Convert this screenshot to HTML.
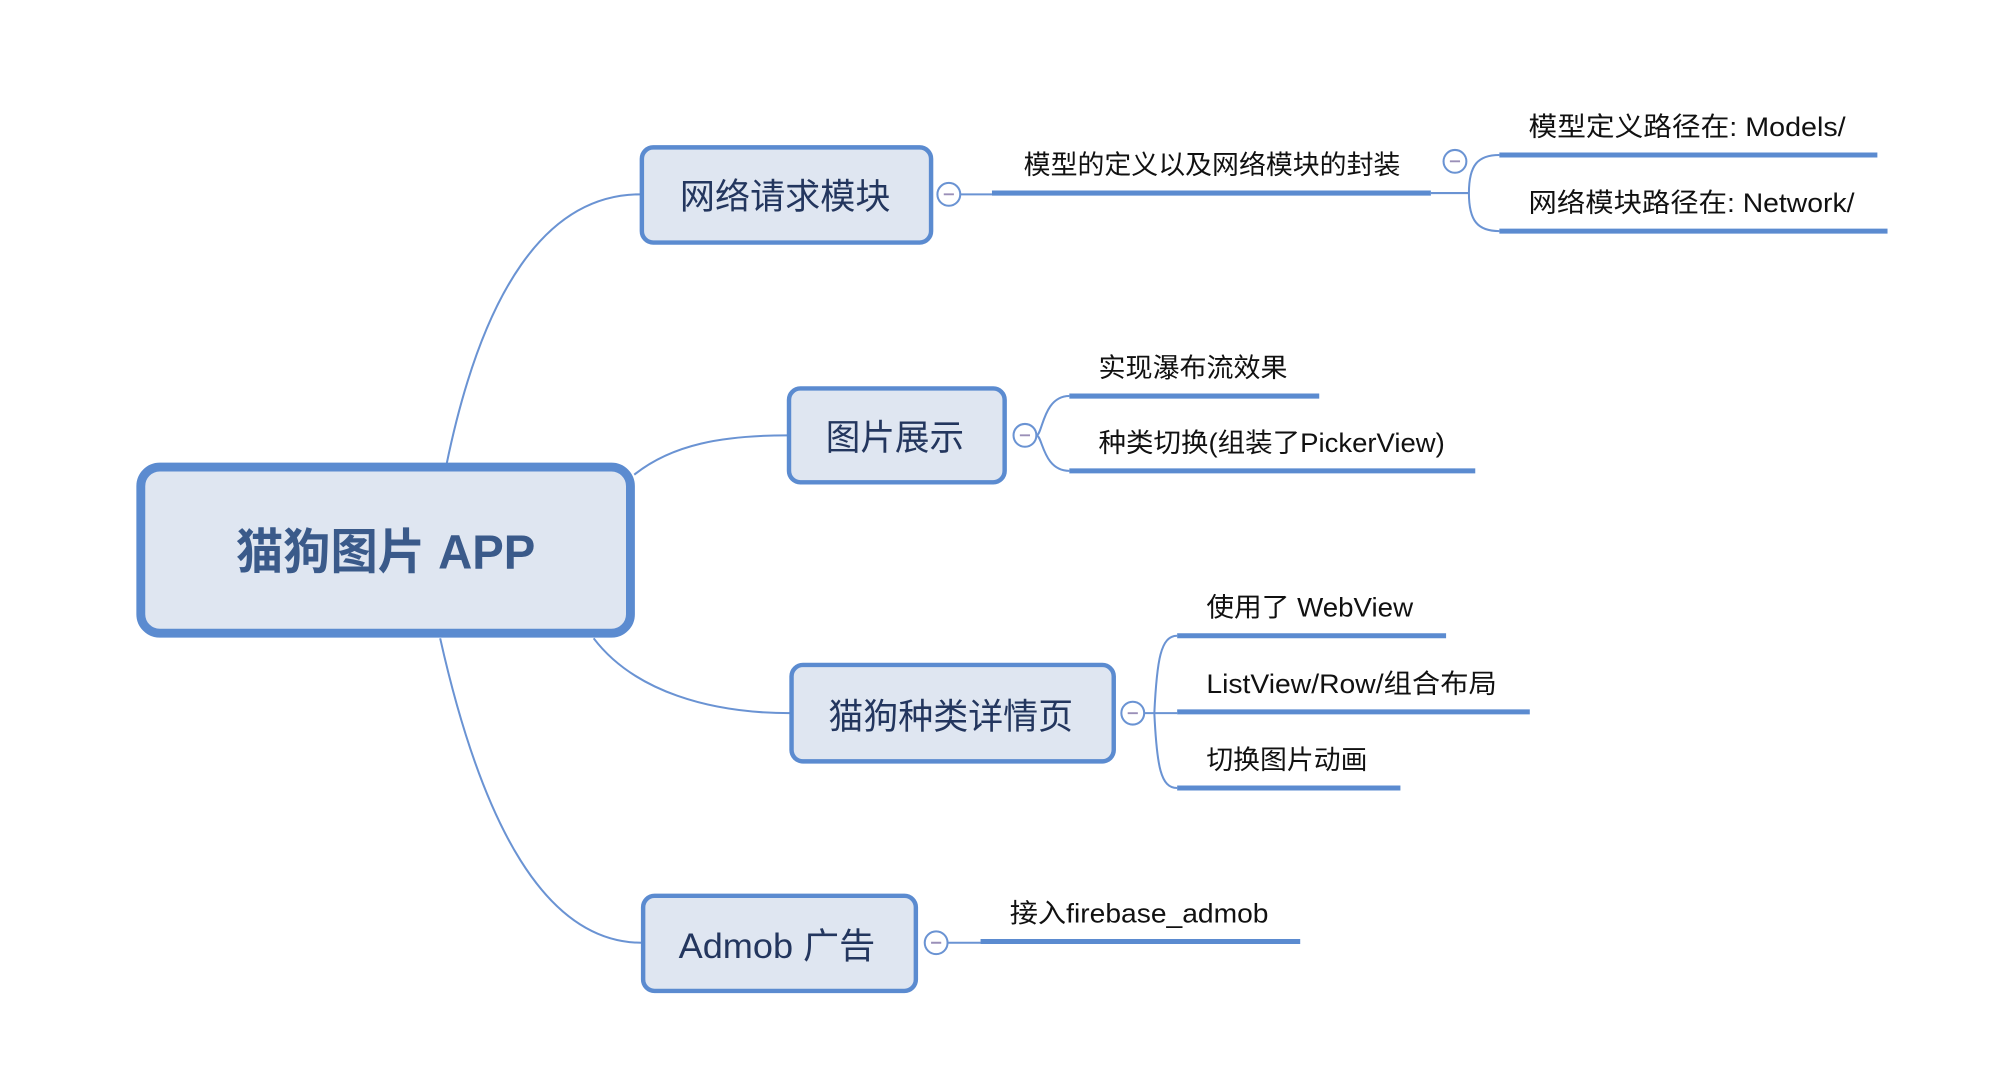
<!DOCTYPE html>
<html><head><meta charset="utf-8"><style>
html,body{margin:0;padding:0;background:#fff;width:1989px;height:1080px;overflow:hidden}
text{font-family:"Liberation Sans","Noto Sans CJK SC",sans-serif}
</style></head><body>
<svg width="1989" height="1080" viewBox="0 0 1568 851" xmlns="http://www.w3.org/2000/svg">
<g fill="none" stroke="#6a93d3" stroke-width="1.6">
<path d="M352 366 C380 230 430 153 505 153"/>
<path d="M500 374 C530 350 570 343 621 343"/>
<path d="M468 503 C500 545 560 562 623 562"/>
<path d="M347 503 C380 650 430 743 506 743"/>
<path d="M757 153 H782"/>
<path d="M1128 152 H1158 M1158 152 C1158 130 1165 122 1182 122 M1158 152 C1158 174 1165 182 1182 182"/>
<path d="M817 343 C822 343 822 312 843 312 M817 343 C822 343 822 371 843 371"/>
<path d="M902 562 H928 M910 562 C912 520 915 501 928 501 M910 562 C912 604 915 621 928 621"/>
<path d="M747 743 H773"/>
</g>
<g stroke="#5b8bd0" stroke-width="4" fill="none">
<path d="M782 152 H1128"/>
<path d="M1182 122 H1480"/><path d="M1182 182 H1488"/>
<path d="M843 312 H1040"/><path d="M843 371 H1163"/>
<path d="M928 501 H1140"/><path d="M928 561 H1206"/><path d="M928 621 H1104"/>
<path d="M773 742 H1025"/>
</g>
<g fill="#fff" stroke="#6a93d3" stroke-width="1.6">
<circle cx="748" cy="153" r="9"/><circle cx="1147" cy="127" r="9"/>
<circle cx="808" cy="343" r="9"/><circle cx="893" cy="562" r="9"/><circle cx="738" cy="743" r="9"/>
</g>
<g stroke="#9a8fb8" stroke-width="1.5">
<path d="M744 153h8M1143 127h8M804 343h8M889 562h8M734 743h8"/>
</g>
<g fill="#dfe6f1" stroke="#5b8bd0">
<rect x="111" y="368" width="386" height="131" rx="15" stroke-width="7"/>
<rect x="506" y="116" width="228" height="75" rx="9" stroke-width="3.5"/>
<rect x="622" y="306" width="170" height="74" rx="9" stroke-width="3.5"/>
<rect x="624" y="524" width="254" height="76" rx="9" stroke-width="3.5"/>
<rect x="507" y="706" width="215" height="75" rx="9" stroke-width="3.5"/>
</g>
<text x="186" y="448" font-size="38" font-weight="bold" fill="#3a5a8a" textLength="236" lengthAdjust="spacingAndGlyphs">猫狗图片 APP</text>
<g font-size="28" fill="#23365e" lengthAdjust="spacingAndGlyphs">
<text x="536" y="164" textLength="166" lengthAdjust="spacingAndGlyphs">网络请求模块</text>
<text x="651" y="354" textLength="109" lengthAdjust="spacingAndGlyphs">图片展示</text>
<text x="653" y="574" textLength="193" lengthAdjust="spacingAndGlyphs">猫狗种类详情页</text>
<text x="535" y="755" textLength="155" lengthAdjust="spacingAndGlyphs">Admob 广告</text>
</g>
<g font-size="21" fill="#111">
<text x="807" y="137" textLength="297" lengthAdjust="spacingAndGlyphs">模型的定义以及网络模块的封装</text>
<text x="1205" y="107" textLength="250" lengthAdjust="spacingAndGlyphs">模型定义路径在:  Models/</text>
<text x="1205" y="167" textLength="257" lengthAdjust="spacingAndGlyphs">网络模块路径在: Network/</text>
<text x="866" y="297" textLength="149" lengthAdjust="spacingAndGlyphs">实现瀑布流效果</text>
<text x="866" y="356" textLength="273" lengthAdjust="spacingAndGlyphs">种类切换(组装了PickerView)</text>
<text x="951" y="486" textLength="163" lengthAdjust="spacingAndGlyphs">使用了 WebView</text>
<text x="951" y="546" textLength="229" lengthAdjust="spacingAndGlyphs">ListView/Row/组合布局</text>
<text x="951" y="606" textLength="127" lengthAdjust="spacingAndGlyphs">切换图片动画</text>
<text x="796" y="727" textLength="204" lengthAdjust="spacingAndGlyphs">接入firebase_admob</text>
</g>
</svg>
</body></html>
